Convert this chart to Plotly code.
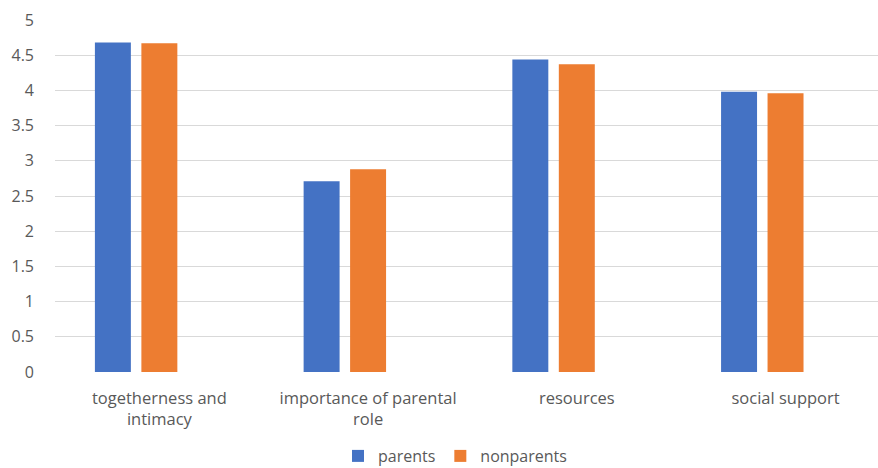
import plotly.graph_objects as go

categories = ["togetherness and<br>intimacy", "importance of parental<br>role", "resources", "social support"]
parents = [4.68, 2.71, 4.44, 3.98]
nonparents = [4.67, 2.88, 4.37, 3.96]
empty_series = [None, None, None, None]
y_ticks = [0, 0.5, 1, 1.5, 2, 2.5, 3, 3.5, 4, 4.5, 5]
y_tick_labels = ["0", "0.5", "1", "1.5", "2", "2.5", "3", "3.5", "4", "4.5", "5"]

fig = go.Figure()
fig.add_trace(go.Bar(name="parents", x=categories, y=parents, marker=dict(color="#4472C4", line=dict(width=0))))
fig.add_trace(go.Bar(name="nonparents", x=categories, y=nonparents, marker=dict(color="#ED7D31", line=dict(width=0))))
fig.add_trace(go.Bar(name="", x=categories, y=empty_series, showlegend=False, marker=dict(color="#A5A5A5")))

font_family = "Open Sans"
fig.update_layout(
    width=878, height=468,
    margin=dict(l=55, r=0, t=19.5, b=96, autoexpand=False),
    paper_bgcolor="white", plot_bgcolor="white",
    barmode="group", bargap=0.332, bargroupgap=0.226,
    font=dict(family=font_family, size=16, color="#595959"),
    showlegend=True,
    legend=dict(orientation="h", x=0.486, xanchor="center", xref="paper",
                y=1 - 456 / 468, yref="container", yanchor="middle",
                bgcolor="rgba(0,0,0,0)",
                font=dict(size=16, color="#595959"), itemwidth=30, traceorder="normal"),
    xaxis=dict(type="category", range=[-0.5, 3.443], showgrid=False, showline=False, ticks="",
               ticklabelstandoff=14, automargin=False,
               tickfont=dict(size=16.5, color="#595959")),
    yaxis=dict(range=[0, 5], tickvals=y_ticks, ticktext=y_tick_labels, showgrid=True,
               gridcolor="#D9D9D9", gridwidth=1.3, zeroline=False, showline=False, ticks="",
               ticklabelstandoff=20, automargin=False, tickfont=dict(size=16, color="#595959")),
)
fig.write_html("out.html")
